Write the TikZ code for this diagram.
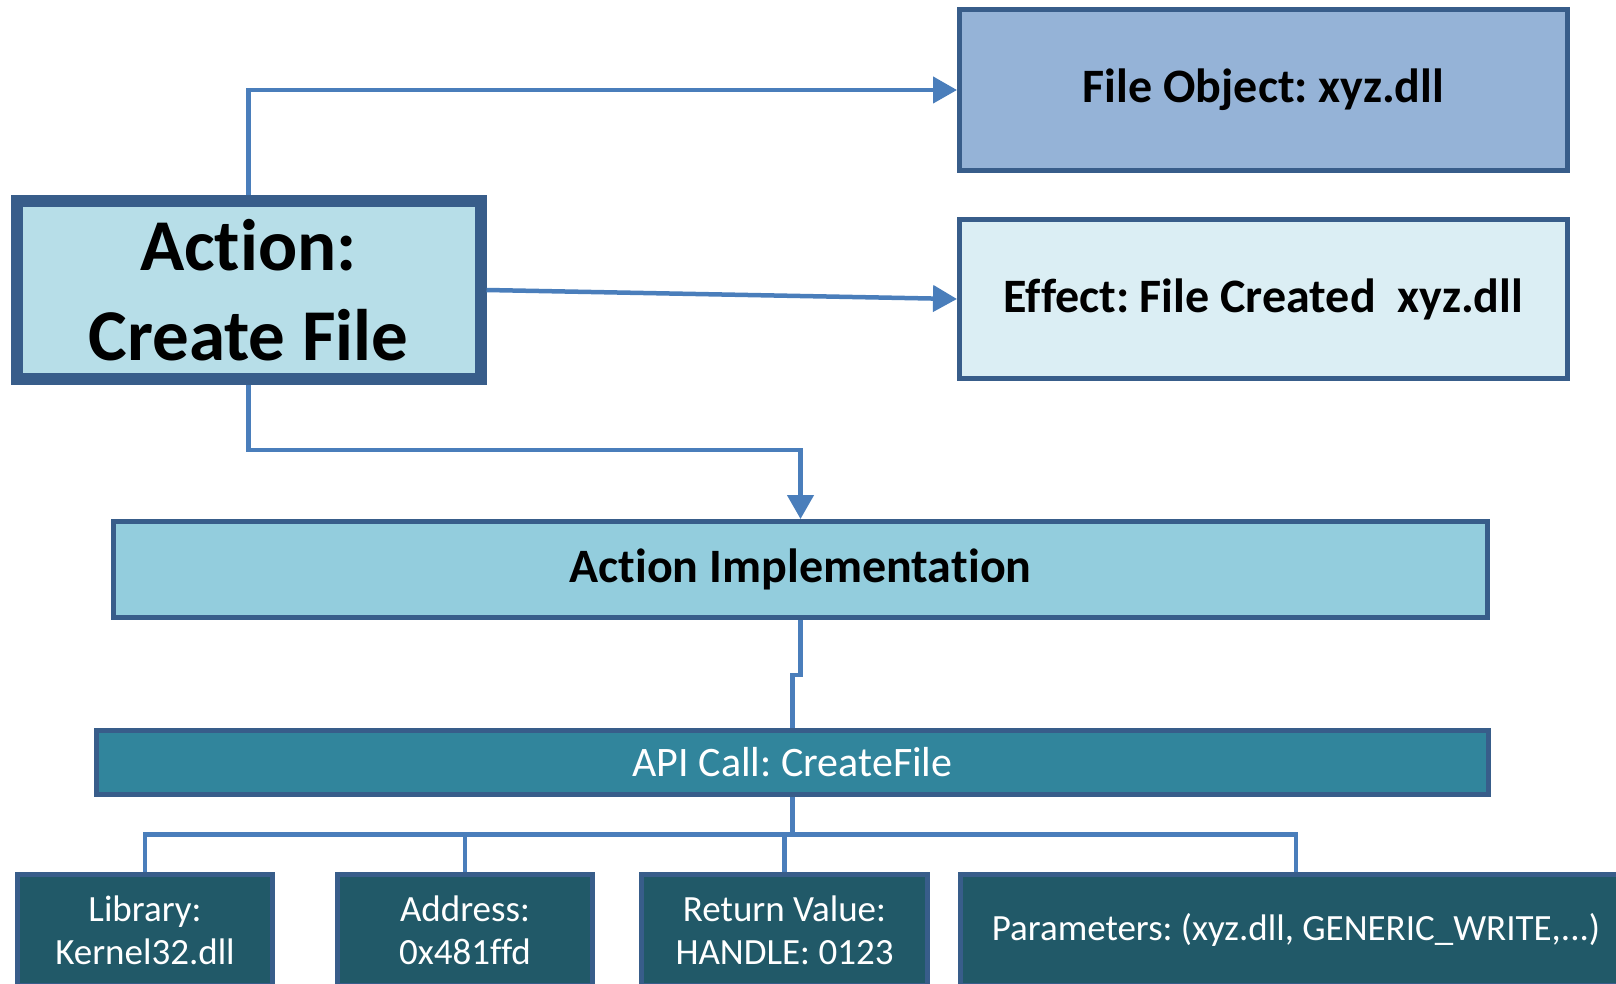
\documentclass[tikz,border=0pt]{standalone}
\usepackage{fontspec}
\setmainfont{Carlito}[Ligatures={CommonOff,ContextualOff}]
\usetikzlibrary{arrows.meta}
\definecolor{boxline}{HTML}{385D8A}
\definecolor{linkblue}{HTML}{4A7EBB}
\definecolor{actfill}{HTML}{B7DEE8}
\definecolor{objfill}{HTML}{95B3D7}
\definecolor{efffill}{HTML}{DBEEF4}
\definecolor{implfill}{HTML}{93CDDD}
\definecolor{apifill}{HTML}{31859C}
\definecolor{leaffill}{HTML}{215968}
\begin{document}
\begin{tikzpicture}[x=0.5pt,y=-0.5pt,
    box/.style={draw=boxline, line width=2.5pt, rectangle, align=center, inner sep=0pt},
    top/.style={box, font=\bfseries\fontsize{24}{29}\selectfont},
    leaf/.style={box, fill=leaffill, text=white, minimum height=55.5pt, font=\fontsize{18.5}{21.5}\selectfont},
    link/.style={draw=linkblue, line width=2.25pt},
    tip/.style={-{Triangle[length=12pt,width=13pt]}}]
        \useasboundingbox (0,0) rectangle (1616,984);

        \node[box, fill=actfill, line width=6pt, minimum width=232pt, minimum height=88.5pt, font=\bfseries\fontsize{36.5}{45}\selectfont] (Act) at (248.5,290) {Ac\kern0pt tion:\\Create File};
        \node[top, fill=objfill, minimum width=304pt, minimum height=80.5pt] (FObj) at (1263.5,90) {File Object:\kern-2pt{} xyz.dll};
        \node[top, fill=efffill, minimum width=304pt, minimum height=79.5pt] (Eff) at (1263.5,299) {Effect:\kern-2pt{} File Created~ xyz.dll};
        \node[top, fill=implfill, minimum width=687pt, minimum height=48pt] (Impl) at (800.5,569.5) {Ac\kern0pt tion Implementa\kern0pt tion};
        \node[box, fill=apifill, text=white, minimum width=696pt, minimum height=32pt, font=\fontsize{21}{25}\selectfont] (API) at (792.5,762.5) {API Call:\kern-1.5pt{} CreateFile};

        \node[leaf, minimum width=127.75pt] (Lib) at (145,930) {Library:\\Kernel32.dll};
        \node[leaf, minimum width=127.5pt] (Addr) at (465,930) {Address:\\0x481ffd};
        \node[leaf, minimum width=143pt] (Ret) at (784.5,930) {Return Value:\\HANDLE: 0123};
        \node[leaf, minimum width=335.5pt] (Par) at (1296,930) {Parameters:\kern-1.5pt{} (xyz.dll, GENERIC\_WRITE,...)};

        \coordinate (B1) at (248.5,450);
        \coordinate (B2) at (800.5,675);
        \coordinate (B3) at (792.5,834.5);

        \draw[link, tip] (Act.north) |- (FObj.west);
        \draw[link, tip] (Act.east) -- (Eff.west);
        \draw[link, tip] (Act.south) -- (B1) -| (Impl.north);
        \draw[link] (Impl.south) -- (B2) -| (API.north);
        \draw[link] (API.south) -- (B3);

        \draw[link] (B3) -| (Lib.north);
        \draw[link] (B3) -| (Addr.north);
        \draw[link] (B3) -| (Ret.north);
        \draw[link] (B3) -| (Par.north);
\end{tikzpicture}
\end{document}
